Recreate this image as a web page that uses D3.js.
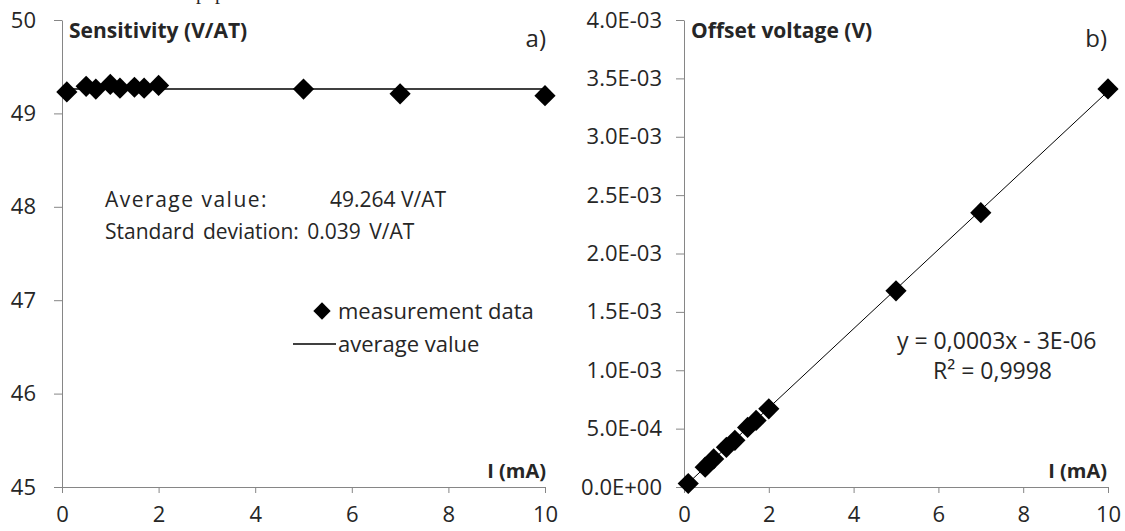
<!DOCTYPE html>
<html>
<head>
<meta charset="utf-8">
<script src="https://cdn.jsdelivr.net/npm/d3@7"></script>
<style>
  body { margin: 0; background: #fff; }
  text { font-family: "Open Sans", "Noto Sans", sans-serif; fill: #262626; }
  .axis path, .axis line { stroke: #868686; }
  .axis text { fill: #262626; font-family: "Open Sans", sans-serif; }
</style>
</head>
<body>
<div id="chart"></div>
<script>
// data
const currents = [0.1, 0.5, 0.7, 1.0, 1.2, 1.5, 1.7, 2.0, 5, 7, 10];
const sensitivity = [49.23, 49.29, 49.26, 49.31, 49.27, 49.28, 49.27, 49.30, 49.26, 49.21, 49.19];
const offsetVoltage = [0.00003, 0.00017, 0.00024, 0.00034, 0.00040, 0.00051, 0.00057, 0.00067, 0.00168, 0.00235, 0.00341];

const currentTicks = [0, 2, 4, 6, 8, 10];
const sensTicks = [45, 46, 47, 48, 49, 50];
const offsetTicks = [0, 0.0005, 0.001, 0.0015, 0.002, 0.0025, 0.003, 0.0035, 0.004];

const statLabels = ["Average value:", "49.264 V/AT", "Standard deviation: 0.039 V/AT"];
const legendLabels = ["measurement data", "average value"];
const fitLabels = ["y = 0,0003x - 3E-06", "R\u00b2 = 0,9998"];

const W = 1125, H = 531;
const svg = d3.select("#chart").append("svg").attr("width", W).attr("height", H);

// scales
const xL = d3.scaleLinear().domain([0, 10]).range([62, 545]);
const yL = d3.scaleLinear().domain([45, 50]).range([487, 20]);
const xR = d3.scaleLinear().domain([0, 10]).range([684, 1108]);
const yR = d3.scaleLinear().domain([0, 0.004]).range([487, 20]);

// excel style 4.0E-03
function sci(v) {
  if (v === 0) return "0.0E+00";
  const e = Math.floor(Math.log10(Math.abs(v)) + 1e-9);
  const m = v / Math.pow(10, e);
  const sign = e < 0 ? "-" : "+";
  return m.toFixed(1) + "E" + sign + String(Math.abs(e)).padStart(2, "0");
}

function drawAxes(x, y, yTicks, yFmt, yPad) {
  svg.append("g").attr("class", "axis")
    .attr("transform", `translate(0,${y.range()[0]})`)
    .call(d3.axisBottom(x).tickValues(currentTicks).tickSize(6).tickPadding(13).tickSizeOuter(0))
    .selectAll("text").attr("font-size", "22px");
  svg.append("g").attr("class", "axis")
    .attr("transform", `translate(${x.range()[0]},0)`)
    .call(d3.axisLeft(y).tickValues(yTicks).tickFormat(yFmt).tickSize(8).tickPadding(yPad).tickSizeOuter(0))
    .selectAll("text").attr("font-size", "22px");
}

drawAxes(xL, yL, sensTicks, d3.format("d"), 18);
drawAxes(xR, yR, offsetTicks, sci, 14);

const diamond = d3.symbol().type(d3.symbolSquare).size(225);

// --- a) sensitivity
const avg = d3.mean(sensitivity);
svg.append("line")
  .attr("x1", xL(d3.min(currents))).attr("x2", xL(d3.max(currents)))
  .attr("y1", yL(avg)).attr("y2", yL(avg))
  .attr("stroke", "#000").attr("stroke-width", 1.5);

svg.selectAll(".ptL").data(currents).enter().append("path")
  .attr("class", "ptL")
  .attr("d", diamond)
  .attr("transform", (d, i) => `translate(${xL(d)},${yL(sensitivity[i])}) rotate(45)`)
  .attr("fill", "#000");

// --- b) offset voltage + linear trendline
const mx = d3.mean(currents), my = d3.mean(offsetVoltage);
const slope = d3.sum(currents, (d, i) => (d - mx) * (offsetVoltage[i] - my)) /
  d3.sum(currents, d => (d - mx) * (d - mx));
const icpt = my - slope * mx;
svg.append("line")
  .attr("x1", xR(0)).attr("y1", yR(Math.max(0, icpt)))
  .attr("x2", xR(10)).attr("y2", yR(icpt + slope * 10))
  .attr("stroke", "#000").attr("stroke-width", 1);

svg.selectAll(".ptR").data(currents).enter().append("path")
  .attr("class", "ptR")
  .attr("d", diamond)
  .attr("transform", (d, i) => `translate(${xR(d)},${yR(offsetVoltage[i])}) rotate(45)`)
  .attr("fill", "#000");

// titles
svg.append("text").attr("x", 69).attr("y", 38).attr("font-size", "21px").attr("font-weight", "bold").text("Sensitivity (V/AT)");
svg.append("text").attr("x", 691).attr("y", 38).attr("font-size", "21px").attr("font-weight", "bold").text("Offset voltage (V)");
svg.append("text").attr("x", 546).attr("y", 47).attr("text-anchor", "end").attr("font-size", "24px").text("a)");
svg.append("text").attr("x", 1107).attr("y", 47).attr("text-anchor", "end").attr("font-size", "24px").text("b)");
svg.append("text").attr("x", 546).attr("y", 478).attr("text-anchor", "end").attr("font-size", "20px").attr("font-weight", "bold").text("I (mA)");
svg.append("text").attr("x", 1107).attr("y", 478).attr("text-anchor", "end").attr("font-size", "20px").attr("font-weight", "bold").text("I (mA)");

// stats
svg.append("text").attr("x", 105).attr("y", 207).attr("font-size", "21px").attr("letter-spacing", "1.5px").text(statLabels[0]);
svg.append("text").attr("x", 330).attr("y", 207).attr("font-size", "21px").text(statLabels[1]);
svg.append("text").attr("x", 105).attr("y", 239).attr("font-size", "21px").attr("word-spacing", "3px").text(statLabels[2]);

// legend
svg.append("path").attr("d", diamond.size(150)).attr("transform", "translate(322,311) rotate(45)").attr("fill", "#000");
svg.append("text").attr("x", 338).attr("y", 319).attr("font-size", "22px").text(legendLabels[0]);
svg.append("line").attr("x1", 293).attr("x2", 336).attr("y1", 344).attr("y2", 344).attr("stroke", "#000").attr("stroke-width", 1.5);
svg.append("text").attr("x", 338).attr("y", 352).attr("font-size", "22px").text(legendLabels[1]);

// fit
svg.append("text").attr("x", 897).attr("y", 349).attr("font-size", "23px").text(fitLabels[0]);
svg.append("text").attr("x", 933).attr("y", 379).attr("font-size", "23px").text(fitLabels[1]);

// cut-off line of the page text above
svg.append("text").attr("x", 196).attr("y", -1).attr("font-size", "20px").style("font-family", "Liberation Serif").text("paper");
</script>
</body>
</html>
